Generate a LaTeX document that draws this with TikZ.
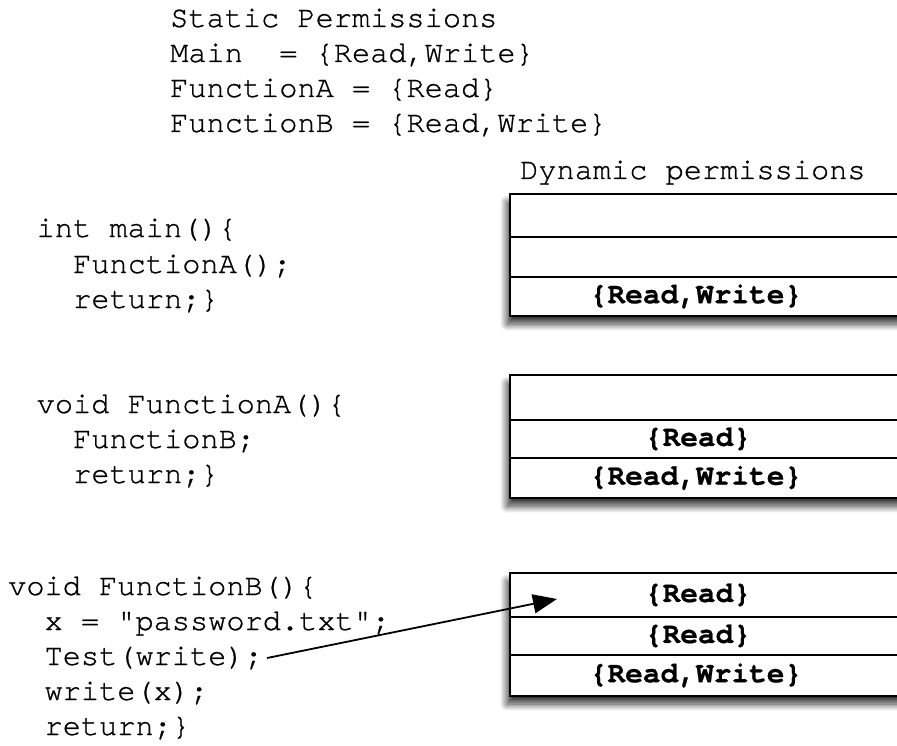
\documentclass[tikz,border=0pt]{standalone}
\usepackage{fontspec}
\usetikzlibrary{arrows.meta,shadows.blur}
\newfontfamily\codefont[UprightFeatures={FakeBold=0.8}]{TeX Gyre Cursor}
\newfontfamily\cellfont[UprightFeatures={FakeBold=0.6}]{TeX Gyre Cursor Bold}
\begin{document}
\begin{tikzpicture}[x=1pt,y=-1pt,
  code/.style={anchor=base west,inner sep=0pt,font=\codefont\fontsize{30.3}{35.5}\selectfont},
  cell/.style={inner sep=0pt,font=\cellfont\fontsize{29.5}{35}\selectfont},
  stack/.style={draw=black,line width=2.6pt,fill=white,
    blur shadow={shadow xshift=-3pt,shadow yshift=-8pt,shadow blur radius=7pt,shadow blur steps=14,shadow opacity=80}},
  rowline/.style={line width=2pt},
  link/.style={line width=1.8pt,-{Triangle[length=24pt,width=19pt,fill=black]}}]
\useasboundingbox (0,0) rectangle (897,746);
\clip (0,0) rectangle (897,746);

% static permission table
\node[code] (s0) at (170,27)  {Static Permissions};
\node[code] (s1) at (170,62)  {Main\ \ = \{Read,Write\}};
\node[code] (s2) at (170,97)  {FunctionA = \{Read\}};
\node[code] (s3) at (170,132) {FunctionB = \{Read,Write\}};

\node[code] (dyn) at (520,179) {Dynamic permissions};

% source code of the three functions
\node[code] (m0) at (36.5,237) {int main()\{};
\node[code] (m1) at (73,273)   {FunctionA();};
\node[code] (m2) at (73,308)   {return;\}};

\node[code] (a0) at (36.5,413) {void FunctionA()\{};
\node[code] (a1) at (73,448)   {FunctionB;};
\node[code] (a2) at (73,483)   {return;\}};

\node[code] (b0) at (8,595)    {void FunctionB()\{};
\node[code] (b1) at (44.4,630) {x = "password.txt";};
\node[code] (b2) at (44.4,665) {Test(write);};
\node[code] (b3) at (44.4,700) {write(x);};
\node[code] (b4) at (44.4,735) {return;\}};

% permission stacks
\draw[stack] (510,194) rectangle (920,316);
\draw[rowline] (510,237) -- (920,237);
\draw[rowline] (510,277) -- (920,277);
\node[cell] (k1c) at (696,296.5) {\{Read,Write\}};

\draw[stack] (510,375) rectangle (920,498);
\draw[rowline] (510,420) -- (920,420);
\draw[rowline] (510,458) -- (920,458);
\node[cell] (k2b) at (698,439) {\{Read\}};
\node[cell] (k2c) at (696,478) {\{Read,Write\}};

\draw[stack] (510,573) rectangle (920,696);
\draw[rowline] (510,617) -- (920,617);
\draw[rowline] (510,655) -- (920,655);
\node[cell] (k3a) at (698,595) {\{Read\}};
\node[cell] (k3b) at (698,636) {\{Read\}};
\node[cell] (k3c) at (696,675.5) {\{Read,Write\}};

% permission check arrow
\coordinate (tip) at (557,599);
\draw[link] ([xshift=4pt]b2.east) -- (tip);
\end{tikzpicture}
\end{document}
